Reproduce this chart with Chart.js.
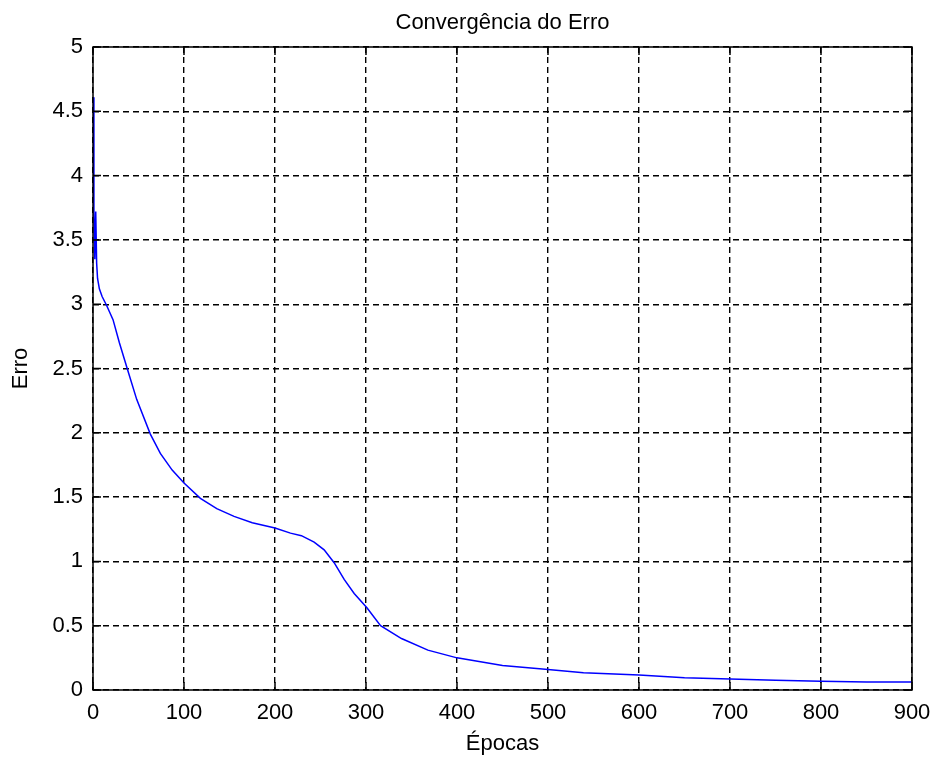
<!DOCTYPE html>
<html lang="pt">
<head>
  <meta charset="UTF-8">
  <title>Convergência do Erro</title>
  <script src="https://cdn.jsdelivr.net/npm/chart.js"></script>
  <style>
    body { margin: 0; background: #fff; }
  </style>
</head>
<body>
  <canvas id="erroChart" width="935" height="759"></canvas>

  <script>
    // valores
    const epocas = [0, 1, 2, 3, 4, 5, 7, 10, 15, 22, 29, 38, 48, 63, 74, 87, 100, 118, 136, 155, 175,
      200, 217, 229, 243, 254, 265, 276, 287, 301, 316, 339, 368, 400, 450, 500, 539, 600, 650, 700,
      750, 800, 850, 900];
    const erro = [4.61, 3.73, 3.35, 3.72, 3.32, 3.20, 3.12, 3.06, 2.99, 2.88, 2.70, 2.49, 2.26, 1.99,
      1.84, 1.71, 1.61, 1.49, 1.41, 1.35, 1.30, 1.26, 1.22, 1.20, 1.15, 1.09, 0.99, 0.86, 0.75, 0.64,
      0.50, 0.40, 0.31, 0.25, 0.19, 0.16, 0.135, 0.117, 0.095, 0.085, 0.075, 0.068, 0.062, 0.062];

    const titulo = 'Convergência do Erro';
    const xMin = 0, xMax = 900, xStep = 100;
    const yMin = 0, yMax = 5, yStep = 0.5;

    const fonte = "'Liberation Sans', Arial, sans-serif";

    // caixa fechada, marcas internas e título centrado na área do gráfico (estilo MATLAB)
    const moldura = {
      id: 'moldura',
      afterDraw(chart) {
        const { ctx, chartArea: a, scales } = chart;
        ctx.save();
        ctx.strokeStyle = '#000';
        ctx.lineWidth = 1.5;
        ctx.setLineDash([]);
        ctx.strokeRect(a.left, a.top, a.right - a.left, a.bottom - a.top);
        const len = 8;
        scales.x.ticks.forEach(t => {
          const px = scales.x.getPixelForValue(t.value);
          ctx.beginPath();
          ctx.moveTo(px, a.bottom); ctx.lineTo(px, a.bottom - len);
          ctx.moveTo(px, a.top); ctx.lineTo(px, a.top + len);
          ctx.stroke();
        });
        scales.y.ticks.forEach(t => {
          const py = scales.y.getPixelForValue(t.value);
          ctx.beginPath();
          ctx.moveTo(a.left, py); ctx.lineTo(a.left + len, py);
          ctx.moveTo(a.right, py); ctx.lineTo(a.right - len, py);
          ctx.stroke();
        });
        ctx.fillStyle = '#000';
        ctx.font = '22px ' + fonte;
        ctx.textAlign = 'center';
        ctx.textBaseline = 'middle';
        ctx.fillText(titulo, (a.left + a.right) / 2, a.top - 24);
        ctx.restore();
      }
    };

    const ctx = document.getElementById('erroChart').getContext('2d');
    new Chart(ctx, {
      type: 'line',
      data: {
        datasets: [{
          label: 'Erro',
          data: epocas.map((e, i) => ({ x: e, y: erro[i] })),
          borderColor: '#0000ff',
          borderWidth: 1.5,
          pointRadius: 0,
          tension: 0,
          fill: false
        }]
      },
      options: {
        responsive: false,
        animation: false,
        layout: { padding: { left: 0, right: 23, top: 47, bottom: 0 } },
        plugins: {
          legend: { display: false },
          tooltip: { enabled: false },
          title: { display: false }
        },
        scales: {
          x: {
            type: 'linear',
            min: xMin,
            max: xMax,
            ticks: {
              stepSize: xStep, color: '#000', padding: 10, font: { family: fonte, size: 22 },
              callback: v => String(v)
            },
            grid: { color: '#000', lineWidth: 1.4, drawTicks: false },
            border: { display: false, dash: [6, 4] },
            title: { display: true, text: 'Épocas', color: '#000', padding: { top: 0, bottom: 2 }, font: { family: fonte, size: 22 } },
            afterFit(scale) {
              scale.height = 69;
              scale.paddingLeft = 0;
              scale.paddingRight = 0;
            }
          },
          y: {
            min: yMin,
            max: yMax,
            ticks: {
              stepSize: yStep, color: '#000', padding: 10, font: { family: fonte, size: 22 },
              callback: v => String(v)
            },
            grid: { color: '#000', lineWidth: 1.4, drawTicks: false },
            border: { display: false, dash: [6, 4] },
            title: { display: true, text: 'Erro', color: '#000', padding: 8, font: { family: fonte, size: 22 } },
            afterFit(scale) {
              scale.width = 93;
              scale.paddingTop = 0;
              scale.paddingBottom = 0;
            }
          }
        }
      },
      plugins: [moldura]
    });
  </script>
</body>
</html>
